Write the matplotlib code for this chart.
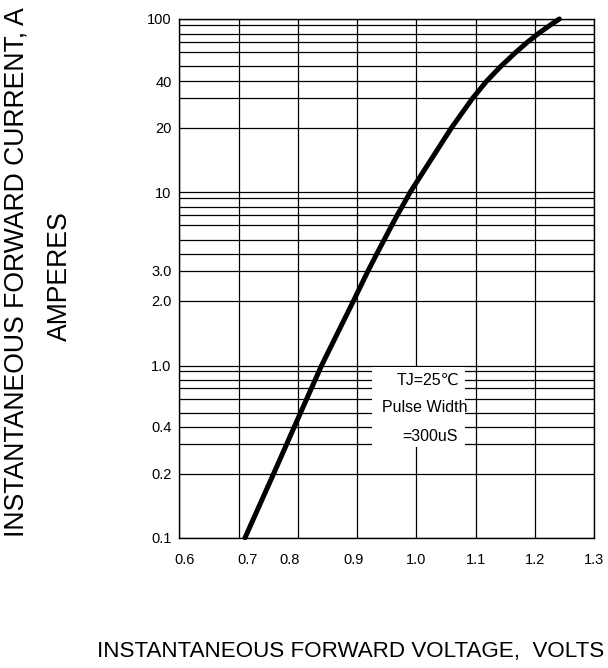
import numpy as np
import matplotlib
matplotlib.use("Agg")
import matplotlib.pyplot as plt
import matplotlib.transforms as mtransforms
from matplotlib.ticker import FixedLocator, FixedFormatter, NullFormatter
from matplotlib.patches import Rectangle

plt.rcParams['font.family'] = ['Liberation Sans', 'DejaVu Sans']

# forward characteristic
volts = [0.711, 0.759, 0.794, 0.840, 0.894, 0.9185, 0.933, 0.946, 0.9585, 0.968,
         0.976, 0.984, 0.9894, 1.0595, 1.095, 1.1187, 1.1424, 1.168, 1.1874, 1.206,
         1.2263, 1.2415]
amps = [0.1, 0.2, 0.4, 1.0, 2.0, 3.0, 4.0, 5.0, 6.0, 7.0,
        8.0, 9.0, 10.0, 20.0, 30.0, 40.0, 50.0, 60.0, 70.0, 80.0,
        90.0, 100.0]

x_ticks = [0.6, 0.7, 0.8, 0.9, 1.0, 1.1, 1.2, 1.3]
x_labels = ["0.6", "0.7", "0.8", "0.9", "1.0", "1.1", "1.2", "1.3"]
y_ticks = [0.1, 0.2, 0.4, 1.0, 2.0, 3.0, 10.0, 20.0, 40.0, 100.0]
y_labels = ["0.1", "0.2", "0.4", "1.0", "2.0", "3.0", "10", "20", "40", "100"]
y_grid = [0.1, 0.2, 0.3, 0.4, 0.5, 0.6, 0.7, 0.8, 0.9,
          1, 2, 3, 4, 5, 6, 7, 8, 9,
          10, 20, 30, 40, 50, 60, 70, 80, 90, 100]

# the printed log paper is not ruled evenly: where each rule sits (0 = bottom, 1 = top)
rule_frac = [0.0, 0.1228, 0.1801, 0.2134, 0.2410, 0.2674, 0.2880, 0.3040, 0.3214,
             0.3316, 0.4565, 0.5142, 0.5464, 0.5747, 0.6019, 0.6221, 0.6381, 0.6543,
             0.6655, 0.7904, 0.8471, 0.8801, 0.9084, 0.9358, 0.9551, 0.9719, 0.9884,
             1.0]
rule_log = np.log10(y_grid)


def fwd(y):
    y = np.clip(np.asarray(y, dtype=float), 1e-6, None)
    return np.interp(np.log10(y), rule_log, rule_frac)


def inv(u):
    return 10 ** np.interp(np.asarray(u, dtype=float), rule_frac, rule_log)


fig = plt.figure(figsize=(6.08, 6.68), dpi=100)
ax = fig.add_axes([0.2949, 0.1951, 0.6821, 0.7765])
ax.set_yscale('function', functions=(fwd, inv))
ax.set_xlim(0.6, 1.3)
ax.set_ylim(0.1, 100)

ax.xaxis.set_major_locator(FixedLocator(x_ticks))
ax.xaxis.set_major_formatter(FixedFormatter(x_labels))
ax.yaxis.set_major_locator(FixedLocator(y_ticks))
ax.yaxis.set_major_formatter(FixedFormatter(y_labels))
ax.yaxis.set_minor_locator(FixedLocator([v for v in y_grid if v not in y_ticks]))
ax.yaxis.set_minor_formatter(NullFormatter())

ax.set_axisbelow(True)
ax.grid(which='both', axis='both', color='black', lw=0.9)
ax.tick_params(which='both', length=0, labelsize=10.5)
ax.tick_params(axis='x', pad=11)
ax.tick_params(axis='y', pad=5.5)
for sp in ax.spines.values():
    sp.set_linewidth(1.0)

# labels on the sheet are a bit off their rules
shifts = {0: 5, 1: 9, 2: -8, 3: -3}
for i, tick in enumerate(ax.xaxis.get_major_ticks()):
    if i in shifts:
        off = mtransforms.ScaledTranslation(shifts[i] / 100, 0, fig.dpi_scale_trans)
        tick.label1.set_transform(tick.label1.get_transform() + off)

ax.plot(volts, amps, color='black', lw=3.6, solid_capstyle='round',
        solid_joinstyle='round', zorder=3, clip_on=False)

ax.add_patch(Rectangle((0.4647, 0.1749), 0.2242, 0.1542, transform=ax.transAxes,
                       facecolor='white', edgecolor='none', zorder=2))
ax.text(0.60, 0.304, "TJ=25℃", transform=ax.transAxes, ha='center', va='center', fontsize=11.5, zorder=4)
ax.text(0.593, 0.250, "Pulse Width", transform=ax.transAxes, ha='center', va='center', fontsize=11.5, zorder=4)
ax.text(0.605, 0.196, "=300uS", transform=ax.transAxes, ha='center', va='center', fontsize=11.5, zorder=4)

fig.text(17 / 608, 1 - 272 / 668, "INSTANTANEOUS FORWARD CURRENT, A", rotation=90,
         ha='center', va='center', fontsize=19.2)
fig.text(60 / 608, 1 - 276 / 668, "AMPERES", rotation=90, ha='center', va='center', fontsize=19.2)
fig.text(351 / 608, 1 - 652 / 668, "INSTANTANEOUS FORWARD VOLTAGE,  VOLTS",
         ha='center', va='center', fontsize=16.1)

fig.savefig("out.png", dpi=100)
